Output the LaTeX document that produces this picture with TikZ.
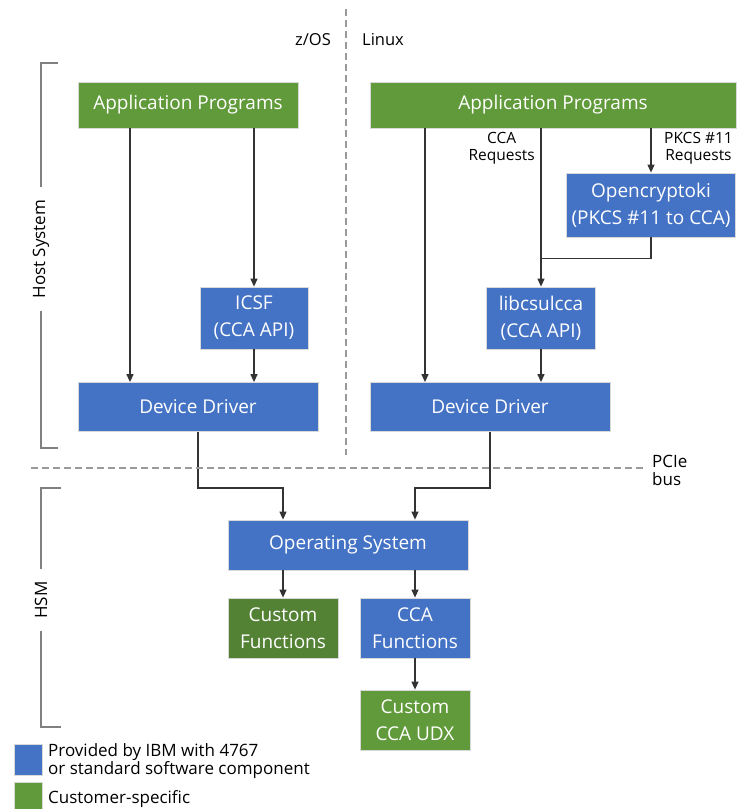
\documentclass[tikz,border=0pt]{standalone}
\usepackage{fontspec}
\setmainfont{Open Sans}
\usetikzlibrary{arrows.meta}

\definecolor{ibmblue}{HTML}{4472C4}
\definecolor{custgreen}{HTML}{619A3A}
\definecolor{darkgreen}{HTML}{548235}
\definecolor{linegray}{HTML}{333333}
\definecolor{dashgray}{HTML}{9A9A9A}

\begin{document}
\begin{tikzpicture}[x=1pt,y=-1pt,
    box/.style={rectangle, draw=white!70!gray, line width=0.8pt, text=white, align=center, inner sep=0pt, font=\fontsize{19}{27}\selectfont},
    bluebox/.style={box, fill=ibmblue},
    greenbox/.style={box, fill=custgreen},
    arr/.style={draw=linegray, line width=1.2pt, -{Triangle[length=8pt,width=7pt]}},
    link/.style={draw=linegray, line width=1.2pt},
    divider/.style={draw=dashgray, line width=1.6pt, dash pattern=on 7pt off 4pt},
    bracket/.style={draw=gray, line width=1.4pt},
    request/.style={font=\fontsize{15.5}{17}\selectfont, align=center, inner sep=0pt},
    side/.style={font=\fontsize{17}{17}\selectfont, inner sep=12pt, rotate=90},
    keytext/.style={font=\fontsize{17}{17}\selectfont, align=left, inner sep=0pt, anchor=west}]
    \useasboundingbox (0,0) rectangle (748,809);

    % host side
    \node[greenbox, minimum width=220pt, minimum height=46pt] (appZ) at (188,105) {Application Programs};
    \node[greenbox, minimum width=366pt, minimum height=46pt] (appL) at (553,105) {Application Programs};

    \node[bluebox, minimum width=108pt, minimum height=62pt] (icsf) at (254,318) {ICSF\\(CCA API)};
    \node[bluebox, minimum width=169pt, minimum height=64pt] (openc) at (651,205) {Opencryptoki\\(PKCS \#11 to CCA)};
    \node[bluebox, minimum width=109pt, minimum height=62pt] (lib) at (541,318) {libcsulcca\\(CCA API)};

    \node[bluebox, minimum width=240pt, minimum height=49pt] (ddZ) at (198,407) {Device Driver};
    \node[bluebox, minimum width=240pt, minimum height=49pt] (ddL) at (490,407) {Device Driver};

    % HSM side
    \node[bluebox, minimum width=240pt, minimum height=50pt] (os) at (348,545) {Operating System};
    \node[box, fill=darkgreen, minimum width=110pt, minimum height=60pt] (cfun) at (283,628) {Custom\\Functions};
    \node[bluebox, minimum width=110pt, minimum height=60pt] (ccaf) at (415,628) {CCA\\Functions};
    \node[greenbox, minimum width=110pt, minimum height=60pt] (udx) at (415,720) {Custom\\CCA UDX};

    \draw[arr] ([xshift=-58pt]appZ.south) -- ([xshift=-58pt]appZ.south |- ddZ.north);
    \draw[arr] (icsf.north |- appZ.south) -- (icsf.north);
    \draw[arr] (icsf.south) -- (icsf.south |- ddZ.north);

    \draw[arr] ([xshift=-128pt]appL.south) -- ([xshift=-128pt]appL.south |- ddL.north);
    \draw[arr] (lib.north |- appL.south) -- (lib.north);
    \draw[arr] (openc.north |- appL.south) -- (openc.north);
    \draw[link] (openc.south) |- ([yshift=28pt]lib.north);
    \draw[arr] (lib.south) -- (lib.south |- ddL.north);

    \node[request, anchor=east] (ccareq) at (535,148) {CCA\\Requests};
    \node[request, anchor=west] (pkcsreq) at (664,148) {PKCS \#11\\Requests};

    \draw[arr] (ddZ.south) -- ++(0,56) -| (cfun.north |- os.north);
    \draw[arr] (ddL.south) -- ++(0,56) -| (ccaf.north |- os.north);
    \draw[arr] (cfun.north |- os.south) -- (cfun.north);
    \draw[arr] (ccaf.north |- os.south) -- (ccaf.north);
    \draw[arr] (ccaf.south) -- (udx.north);

    % dividers
    \draw[divider] (346,9) -- (346,455);
    \draw[divider] (31,468) -- (646,468);
    \node[font=\fontsize{16.5}{17}\selectfont, anchor=east, inner sep=0pt] (zos) at (331,40) {z/OS};
    \node[font=\fontsize{16.5}{17}\selectfont, anchor=west, inner sep=0pt] (linux) at (362,40) {Linux};
    \node[keytext, font=\fontsize{17}{18}\selectfont] (pcie) at (652,470) {PCIe\\bus};

    % brackets
    \node[side] (host) at (41,249) {Host System};
    \draw[bracket] (host.east) |- (58,63);
    \draw[bracket] (host.west) |- (58,448);
    \node[side] (hsm) at (41,600) {HSM};
    \draw[bracket] (hsm.east) |- (61,488);
    \draw[bracket] (hsm.west) |- (61,727);

    % key
    \node[draw=white!70!gray, fill=ibmblue, minimum width=28pt, minimum height=31pt, inner sep=0pt] (keyibm) at (28,759.5) {};
    \node[draw=white!70!gray, fill=custgreen, minimum width=28pt, minimum height=30pt, inner sep=0pt] (keycust) at (28,797) {};
    \node[keytext] (ibmtext) at (48,761) {Provided by IBM with 4767\\or standard software component};
    \node[keytext] (custtext) at (48,799) {Customer-specific};

\end{tikzpicture}
\end{document}
